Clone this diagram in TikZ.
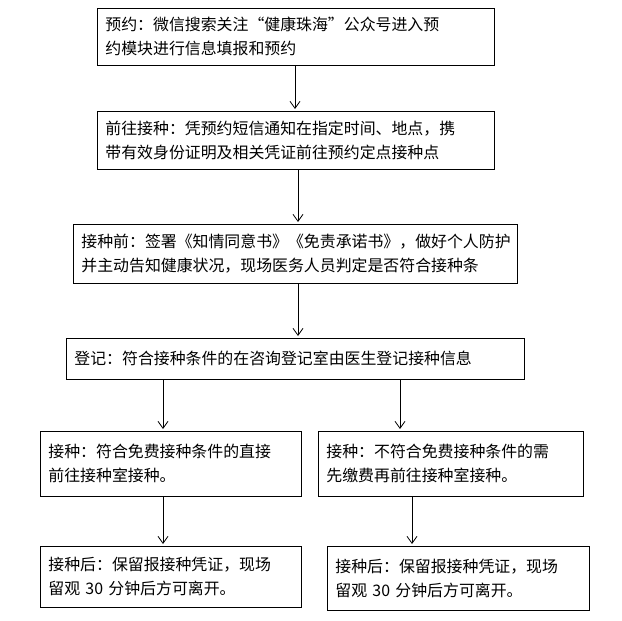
\documentclass[tikz,border=0pt]{standalone}
\usepackage{fontspec}
\setmainfont{Noto Sans CJK SC}
\usetikzlibrary{arrows.meta}
\begin{document}
\begin{tikzpicture}[x=1pt,y=-1pt,
  box/.style={draw,line width=0.8pt,anchor=north west,inner xsep=8pt,inner ysep=0pt,align=left,
    font=\fontsize{15.9}{24}\selectfont},
  arr/.style={-{Straight Barb[length=7pt,width=10pt]},line width=0.8pt}]
\useasboundingbox (0,0) rectangle (622,621);
\node[box,minimum width=397,minimum height=57,text width=381] (b1) at (97,8) {预约：微信搜索关注“健康珠海”公众号进入预\\约模块进行信息填报和预约};
\node[box,minimum width=397,minimum height=58,text width=381] (b2) at (97,111) {前往接种：凭预约短信通知在指定时间、地点，携\\带有效身份证明及相关凭证前往预约定点接种点};
\node[box,minimum width=444,minimum height=59,text width=428] (b3) at (73,224) {接种前：签署《知情同意书》《免责承诺书》，做好个人防护\\并主动告知健康状况，现场医务人员判定是否符合接种条};
\node[box,minimum width=458,minimum height=41,text width=442] (b4) at (66,338) {登记：符合接种条件的在咨询登记室由医生登记接种信息};
\node[box,minimum width=261,minimum height=65,text width=245] (b5) at (40,431) {接种：符合免费接种条件的直接\\前往接种室接种。};
\node[box,minimum width=265,minimum height=65,text width=249] (b6) at (318,431) {接种：不符合免费接种条件的需\\先缴费再前往接种室接种。};
\node[box,minimum width=261,minimum height=61,text width=245] (b7) at (40,546) {接种后：保留报接种凭证，现场\\留观 30 分钟后方可离开。};
\node[box,minimum width=262,minimum height=64,text width=246] (b8) at (327,546) {接种后：保留报接种凭证，现场\\留观 30 分钟后方可离开。};
\draw[arr] (295,65) -- (295,109);
\draw[arr] (298,169) -- (298,222);
\draw[arr] (298,283) -- (298,336);
\draw[arr] (163,379) -- (163,429);
\draw[arr] (400,379) -- (400,429);
\draw[arr] (163,496) -- (163,544);
\draw[arr] (412,496) -- (412,544);
\end{tikzpicture}
\end{document}
